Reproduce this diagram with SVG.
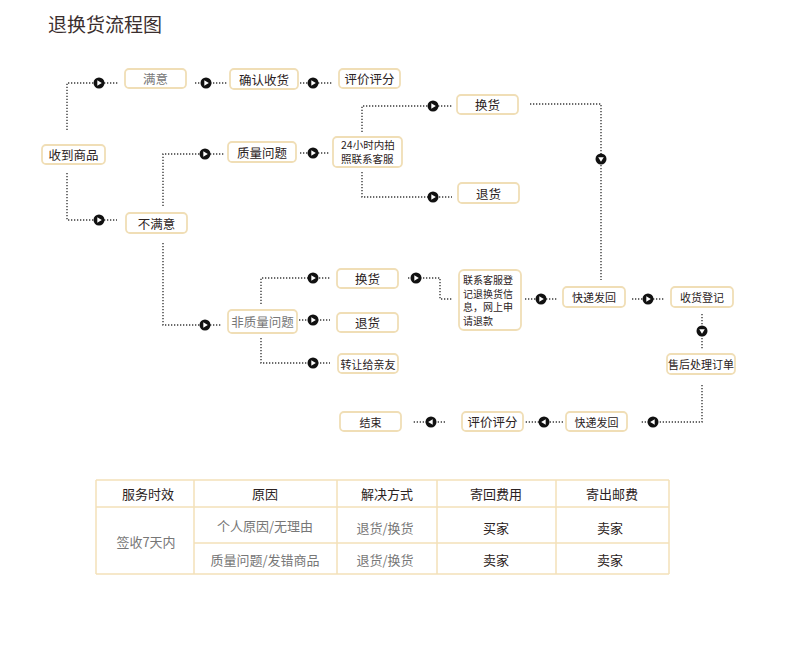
<svg xmlns="http://www.w3.org/2000/svg" xmlns:xlink="http://www.w3.org/1999/xlink" width="790" height="650" viewBox="0 0 790 650">
<style>
.n rect{fill:#fff;stroke:#f0deb6;stroke-width:1.8}
.t{font-family:"Noto Sans CJK SC","Liberation Sans",sans-serif;font-size:12.5px;fill:#2b2222;text-anchor:middle;dominant-baseline:central}
.g{fill:#777}
.s{font-size:11px}
.m{font-family:"Noto Sans CJK SC","Liberation Sans",sans-serif;font-size:10.5px;fill:#2b2222}
.c path{fill:none;stroke:#3a3a3a;stroke-width:1.4;stroke-dasharray:1.3 1.7}
.tb line{stroke:#f3e0b8;stroke-width:1.5}
.h{font-family:"Noto Sans CJK SC","Liberation Sans",sans-serif;font-size:13px;fill:#2b2222;text-anchor:middle;dominant-baseline:central}
.b{font-family:"Noto Sans CJK SC","Liberation Sans",sans-serif;font-size:13px;fill:#777;text-anchor:middle;dominant-baseline:central}
</style>
<defs>
<g id="mk"><circle r="5.5" fill="#111"/><polygon points="-1.7,-2.8 2.8,0 -1.7,2.8" fill="#fff"/></g>
</defs>
<rect width="790" height="650" fill="#fff"/>
<text x="48" y="32" font-family="Noto Sans CJK SC, sans-serif" font-size="19" fill="#3a2e2e">退换货流程图</text>

<g class="c" id="connectors">
<path d="M67,130 V83 H118"/><use href="#mk" x="99" y="83"/>
<path d="M195,83 H227"/><use href="#mk" x="206" y="83"/>
<path d="M300,83 H332"/><use href="#mk" x="313" y="83"/>
<path d="M67,173 V220 H117"/><use href="#mk" x="99" y="220"/>
<path d="M163,206 V154 H225"/><use href="#mk" x="205" y="154"/>
<path d="M300,153 H330"/><use href="#mk" x="313" y="153"/>
<path d="M362,132 V106 H452"/><use href="#mk" x="433" y="106"/>
<path d="M362,172 V197 H452"/><use href="#mk" x="433" y="197"/>
<path d="M530,104 H601 V280"/><use href="#mk" transform="translate(601,159) rotate(90)"/>
<path d="M163,243 V325 H222"/><use href="#mk" x="205" y="325"/>
<path d="M261,304 V278 H330"/><use href="#mk" x="313" y="278"/>
<path d="M299,320 H330"/><use href="#mk" x="313" y="320"/>
<path d="M261,338 V363 H330"/><use href="#mk" x="313" y="363"/>
<path d="M408,278 H440 V299 H453"/><use href="#mk" x="416" y="278"/>
<path d="M525,299 H557"/><use href="#mk" x="541" y="299"/>
<path d="M632,299 H665"/><use href="#mk" x="648" y="299"/>
<path d="M702,314 V350"/><use href="#mk" transform="translate(702,331) rotate(90)"/>
<path d="M702,385 V422 H640"/><use href="#mk" transform="translate(653,422) rotate(180)"/>
<path d="M563,422 H525"/><use href="#mk" transform="translate(544,422) rotate(180)"/>
<path d="M445,422 H413"/><use href="#mk" transform="translate(431,422) rotate(180)"/>
</g>

<g class="n" id="n-receive"><rect x="42" y="145" width="63" height="19" rx="4"/><text class="t" x="73.5" y="154.5">收到商品</text></g>
<g class="n" id="n-satisfied"><rect x="125" y="69" width="61" height="19" rx="4"/><text class="t g" x="155.5" y="78.5">满意</text></g>
<g class="n" id="n-confirm"><rect x="230" y="69" width="68" height="20" rx="4"/><text class="t" x="264" y="79">确认收货</text></g>
<g class="n" id="n-rate1"><rect x="339" y="69" width="61" height="19" rx="4"/><text class="t" x="369.5" y="78.5">评价评分</text></g>
<g class="n" id="n-quality"><rect x="228" y="142" width="68" height="20" rx="4"/><text class="t" x="262" y="152">质量问题</text></g>
<g class="n" id="n-24h"><rect x="333" y="137" width="69" height="30" rx="4"/><text class="m" x="341" y="149"><tspan x="341">24小时内拍</tspan><tspan x="341" dy="13.5">照联系客服</tspan></text></g>
<g class="n" id="n-exch1"><rect x="457" y="95" width="61" height="19" rx="4"/><text class="t" x="487.5" y="104.5">换货</text></g>
<g class="n" id="n-ret1"><rect x="458" y="183" width="61" height="20" rx="4"/><text class="t" x="488.5" y="193">退货</text></g>
<g class="n" id="n-unsat"><rect x="126" y="213" width="61" height="20" rx="4"/><text class="t" x="156.5" y="223">不满意</text></g>
<g class="n" id="n-nonq"><rect x="228" y="310" width="69" height="23" rx="4"/><text class="t g" x="262.5" y="321.5">非质量问题</text></g>
<g class="n" id="n-exch2"><rect x="337" y="269" width="61" height="19" rx="4"/><text class="t" x="367.5" y="278.5">换货</text></g>
<g class="n" id="n-ret2"><rect x="337" y="313" width="61" height="19" rx="4"/><text class="t" x="367.5" y="322.5">退货</text></g>
<g class="n" id="n-give"><rect x="338" y="354" width="60" height="19" rx="4"/><text class="t s" x="368" y="363.5">转让给亲友</text></g>
<g class="n" id="n-contact"><rect x="459" y="270" width="62" height="60" rx="5"/>
<text class="m" x="463" y="284" style="font-size:10px"><tspan x="463">联系客服登</tspan><tspan x="463" dy="13.6">记退换货信</tspan><tspan x="463" dy="13.6">息，网上申</tspan><tspan x="463" dy="13.6">请退款</tspan></text></g>
<g class="n" id="n-ship1"><rect x="563" y="287" width="62" height="20" rx="4"/><text class="t s" x="594" y="297">快递发回</text></g>
<g class="n" id="n-recvreg"><rect x="671" y="287" width="62" height="20" rx="4"/><text class="t s" x="702" y="297">收货登记</text></g>
<g class="n" id="n-order"><rect x="667" y="354" width="68" height="20" rx="4"/><text class="t s" x="701" y="364">售后处理订单</text></g>
<g class="n" id="n-ship2"><rect x="566" y="412" width="61" height="19" rx="4"/><text class="t s" x="596.5" y="421.5">快递发回</text></g>
<g class="n" id="n-rate2"><rect x="462" y="412" width="61" height="19" rx="4"/><text class="t" x="492.5" y="421.5">评价评分</text></g>
<g class="n" id="n-end"><rect x="340" y="412" width="61" height="19" rx="4"/><text class="t s" x="370.5" y="421.5">结束</text></g>

<g class="tb" id="table">
<line x1="96" y1="480" x2="669" y2="480"/>
<line x1="96" y1="507" x2="669" y2="507"/>
<line x1="194" y1="543" x2="669" y2="543"/>
<line x1="96" y1="574" x2="669" y2="574"/>
<line x1="96" y1="480" x2="96" y2="574"/>
<line x1="194" y1="480" x2="194" y2="574"/>
<line x1="337" y1="480" x2="337" y2="574"/>
<line x1="437" y1="480" x2="437" y2="574"/>
<line x1="556" y1="480" x2="556" y2="574"/>
<line x1="669" y1="480" x2="669" y2="574"/>
<text class="h" x="148" y="493.5">服务时效</text>
<text class="h" x="265" y="493.5">原因</text>
<text class="h" x="387" y="493.5">解决方式</text>
<text class="h" x="496" y="493.5">寄回费用</text>
<text class="h" x="612" y="493.5">寄出邮费</text>
<text class="b" x="146" y="541">签收7天内</text>
<text class="b" x="265" y="525">个人原因/无理由</text>
<text class="b" x="385" y="527">退货/换货</text>
<text class="h" x="496" y="527">买家</text>
<text class="h" x="610" y="527">卖家</text>
<text class="b" x="265" y="559">质量问题/发错商品</text>
<text class="b" x="385" y="559">退货/换货</text>
<text class="h" x="496" y="559">卖家</text>
<text class="h" x="610" y="559">卖家</text>
</g>
</svg>
